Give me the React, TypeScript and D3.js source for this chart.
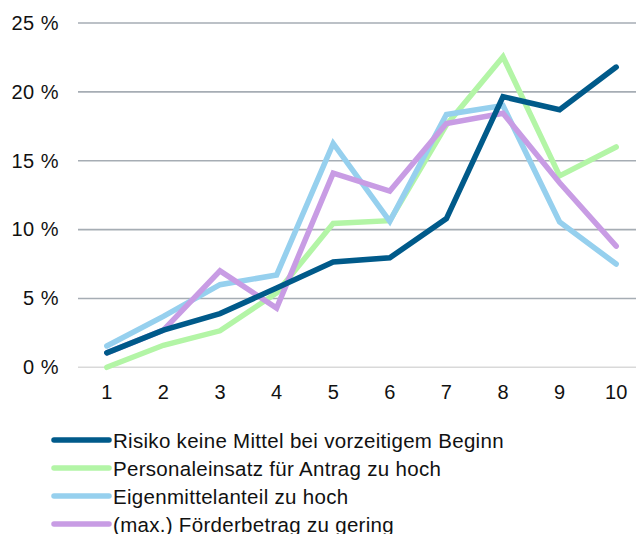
import React from "react";
import * as d3 from "d3";

const categories = ["1", "2", "3", "4", "5", "6", "7", "8", "9", "10"];
const yTicks = [0, 5, 10, 15, 20, 25];
const seriesNames = [
  "Risiko keine Mittel bei vorzeitigem Beginn",
  "Personaleinsatz für Antrag zu hoch",
  "Eigenmittelanteil zu hoch",
  "(max.) Förderbetrag zu gering",
];
const seriesColors = ["#005a8a", "#b3f5a6", "#96d0ee", "#c89ce4"];
const risiko = [1.05, 2.7, 3.9, 5.75, 7.65, 7.95, 10.8, 19.65, 18.7, 21.8];
const personal = [0.0, 1.6, 2.65, 5.4, 10.45, 10.65, 17.6, 22.55, 13.9, 16.0];
const eigen = [1.55, 3.7, 6.0, 6.7, 16.25, 10.6, 18.35, 19.0, 10.55, 7.5];
const foerder = [1.05, 2.7, 7.0, 4.3, 14.1, 12.8, 17.7, 18.45, 13.4, 8.8];
const seriesValues = [risiko, personal, eigen, foerder];

const W = 636;
const H = 534;
const FONT = "'Liberation Sans', Arial, sans-serif";

export default function App() {
  const x = d3.scalePoint<string>().domain(categories).range([78.5, 644.5]).padding(0.5);
  const y = d3.scaleLinear().domain([0, 25]).range([367.3, 23]);
  const line = d3
    .line<number>()
    .x((_, i) => x(categories[i]) as number)
    .y((d) => y(d));

  const drawOrder = [1, 2, 3, 0];

  return (
    <svg
      width={W}
      height={H}
      style={{ position: "absolute", left: 0, top: 0, background: "#fff" }}
      fontFamily={FONT}
    >
      {yTicks.map((t) => (
        <g key={t}>
          <line
            x1={78}
            x2={W}
            y1={y(t)}
            y2={y(t)}
            stroke={t === 0 ? "#d9d9d9" : "#a6adb4"}
            strokeWidth={1.6}
          />
          <text
            x={59}
            y={y(t) + 6.9}
            textAnchor="end"
            fontSize={20}
            letterSpacing={0.5}
            fill="#111"
          >
            {`${t} %`}
          </text>
        </g>
      ))}
      {categories.map((c) => (
        <text
          key={c}
          x={x(c) as number}
          y={399.3}
          textAnchor="middle"
          fontSize={20}
          fill="#111"
        >
          {c}
        </text>
      ))}
      {drawOrder.map((si) => (
        <path
          key={si}
          d={line(seriesValues[si]) || ""}
          fill="none"
          stroke={seriesColors[si]}
          strokeWidth={5.5}
          strokeLinecap="round"
          strokeLinejoin="miter"
        />
      ))}
      {seriesNames.map((n, i) => (
        <g key={n}>
          <line
            x1={54}
            x2={109}
            y1={440 + i * 28}
            y2={440 + i * 28}
            stroke={seriesColors[i]}
            strokeWidth={5.5}
            strokeLinecap="round"
          />
          <text
            x={113}
            y={448.3 + i * 28}
            fontSize={20.5}
            letterSpacing={0.3}
            fill="#111"
          >
            {n}
          </text>
        </g>
      ))}
    </svg>
  );
}
